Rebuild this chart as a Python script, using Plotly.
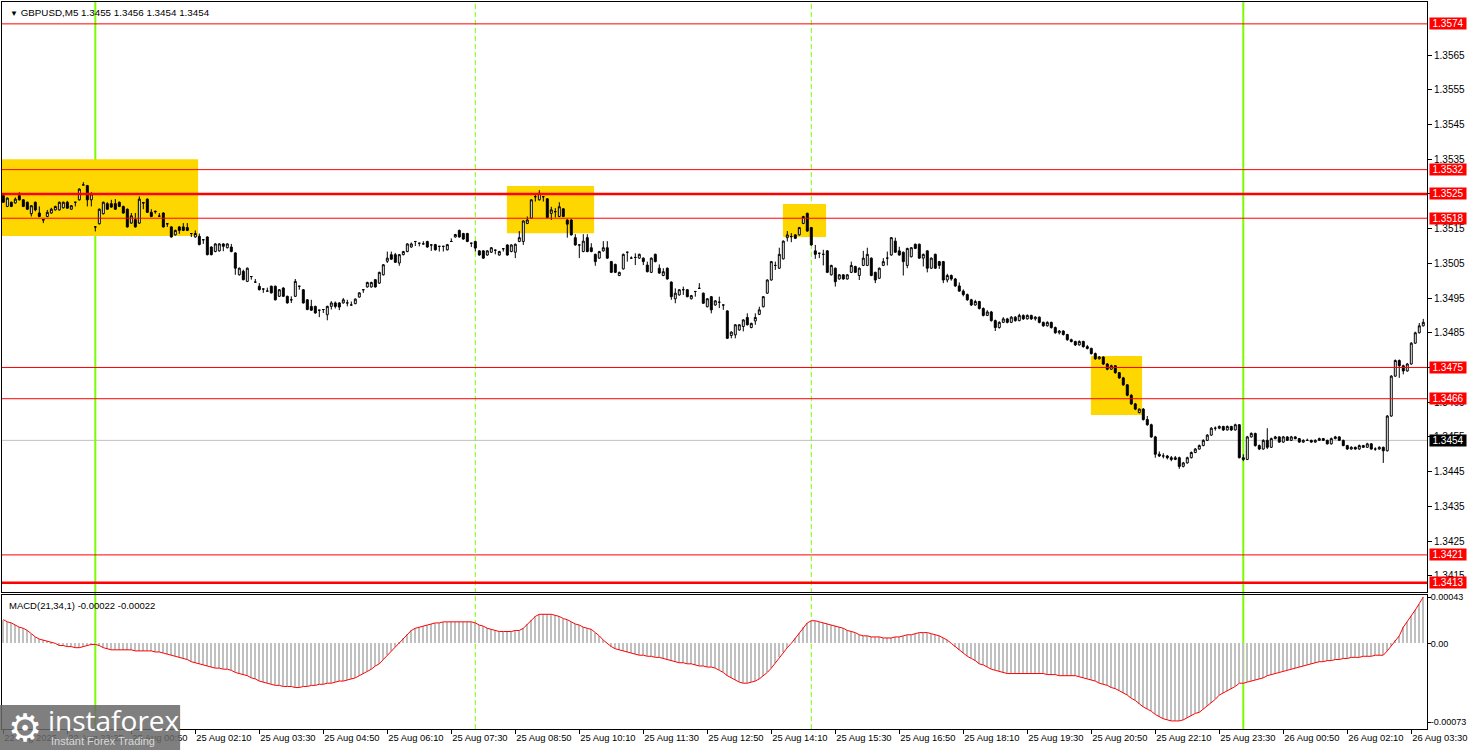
import plotly.graph_objects as go

# ---------------- data ----------------
bar_index = list(range(356))

open_prices = [
1.35245,1.35214,1.35226,1.35224,1.35245,1.35233,1.35226,1.35193,1.35226,1.35195,
1.35176,1.35185,1.35195,1.35204,1.35204,1.35210,1.35226,1.35206,1.35226,1.35233,
1.35276,1.35274,1.35233,1.35155,1.35164,1.35193,1.35222,1.35222,1.35222,1.35226,
1.35214,1.35206,1.35166,1.35176,1.35166,1.35225,1.35235,1.35197,1.35200,1.35186,
1.35195,1.35164,1.35155,1.35132,1.35155,1.35155,1.35153,1.35136,1.35126,1.35128,
1.35118,1.35126,1.35097,1.35084,1.35086,1.35106,1.35095,1.35097,1.35080,1.35017,
1.35027,1.34998,1.35012,1.34996,1.34984,1.34976,1.34970,1.34984,1.34984,1.34955,
1.34979,1.34955,1.34945,1.34955,1.34984,1.34974,1.34945,1.34926,1.34926,1.34915,
1.34917,1.34902,1.34926,1.34936,1.34936,1.34936,1.34936,1.34930,1.34934,1.34953,
1.34974,1.34982,1.34982,1.35003,1.34993,1.35017,1.35056,1.35075,1.35075,1.35051,
1.35075,1.35084,1.35097,1.35113,1.35108,1.35106,1.35113,1.35103,1.35104,1.35099,
1.35099,1.35089,1.35113,1.35126,1.35145,1.35136,1.35136,1.35108,1.35113,1.35086,
1.35086,1.35074,1.35082,1.35088,1.35074,1.35092,1.35103,1.35084,1.35082,1.35113,
1.35113,1.35165,1.35180,1.35242,1.35233,1.35242,1.35236,1.35194,1.35199,1.35185,
1.35207,1.35175,1.35175,1.35124,1.35103,1.35084,1.35124,1.35095,1.35076,1.35065,
1.35086,1.35095,1.35055,1.35047,1.35015,1.35034,1.35082,1.35065,1.35067,1.35065,
1.35065,1.35045,1.35024,1.35076,1.35036,1.35015,1.35036,1.34996,1.34948,1.34959,
1.34974,1.34974,1.34948,1.34969,1.34978,1.34964,1.34925,1.34954,1.34930,1.34938,
1.34930,1.34913,1.34842,1.34844,1.34858,1.34868,1.34894,1.34865,1.34884,1.34903,
1.34925,1.34964,1.35002,1.35044,1.35036,1.35063,1.35124,1.35127,1.35132,1.35132,
1.35165,1.35194,1.35153,1.35086,1.35079,1.35076,1.35086,1.35017,1.35036,1.35005,
1.35017,1.35005,1.35024,1.35041,1.35015,1.35044,1.35044,1.35065,1.35024,1.35007,
1.35044,1.35065,1.35074,1.35114,1.35086,1.35082,1.35044,1.35069,1.35105,1.35105,
1.35065,1.35086,1.35036,1.35076,1.35055,1.35055,1.35002,1.35015,1.35005,1.34985,
1.34970,1.34960,1.34945,1.34930,1.34940,1.34920,1.34900,1.34910,1.34885,1.34865,
1.34880,1.34890,1.34880,1.34895,1.34885,1.34900,1.34890,1.34900,1.34890,1.34895,
1.34880,1.34870,1.34880,1.34865,1.34850,1.34855,1.34845,1.34830,1.34825,1.34815,
1.34825,1.34810,1.34805,1.34790,1.34775,1.34780,1.34760,1.34745,1.34755,1.34735,
1.34720,1.34700,1.34670,1.34645,1.34620,1.34630,1.34600,1.34585,1.34550,1.34500,
1.34495,1.34495,1.34490,1.34485,1.34490,1.34465,1.34475,1.34490,1.34505,1.34515,
1.34525,1.34540,1.34555,1.34575,1.34575,1.34580,1.34570,1.34580,1.34570,1.34585,
1.34490,1.34485,1.34550,1.34560,1.34525,1.34515,1.34540,1.34520,1.34545,1.34550,
1.34535,1.34550,1.34540,1.34550,1.34545,1.34535,1.34540,1.34540,1.34535,1.34540,
1.34545,1.34540,1.34530,1.34545,1.34550,1.34540,1.34525,1.34515,1.34520,1.34515,
1.34525,1.34520,1.34530,1.34515,1.34515,1.34520,1.34510,1.34610,1.34725,1.34770,
1.34755,1.34740,1.34760,1.34820,1.34850,1.34870]

high_prices = [
1.35247,1.35240,1.35228,1.35240,1.35255,1.35235,1.35228,1.35218,1.35228,1.35214,
1.35177,1.35204,1.35210,1.35216,1.35228,1.35228,1.35230,1.35218,1.35227,1.35266,
1.35284,1.35276,1.35255,1.35156,1.35208,1.35228,1.35226,1.35233,1.35235,1.35228,
1.35216,1.35208,1.35195,1.35195,1.35243,1.35227,1.35237,1.35206,1.35202,1.35195,
1.35197,1.35165,1.35157,1.35147,1.35157,1.35166,1.35166,1.35137,1.35145,1.35136,
1.35119,1.35128,1.35099,1.35108,1.35108,1.35108,1.35108,1.35106,1.35082,1.35038,
1.35032,1.35038,1.35013,1.35005,1.34993,1.34977,1.34980,1.34986,1.34986,1.34976,
1.34981,1.34957,1.34955,1.35005,1.34985,1.34976,1.34947,1.34945,1.34928,1.34916,
1.34918,1.34928,1.34941,1.34940,1.34938,1.34950,1.34945,1.34940,1.34949,1.34967,
1.34975,1.34997,1.34997,1.35005,1.35026,1.35048,1.35084,1.35084,1.35080,1.35077,
1.35086,1.35108,1.35110,1.35114,1.35109,1.35114,1.35115,1.35104,1.35106,1.35100,
1.35100,1.35106,1.35122,1.35135,1.35147,1.35138,1.35138,1.35109,1.35115,1.35088,
1.35088,1.35088,1.35097,1.35089,1.35086,1.35093,1.35105,1.35105,1.35107,1.35143,
1.35174,1.35185,1.35235,1.35252,1.35261,1.35243,1.35238,1.35213,1.35209,1.35226,
1.35209,1.35177,1.35177,1.35134,1.35104,1.35134,1.35134,1.35108,1.35078,1.35086,
1.35114,1.35114,1.35057,1.35049,1.35026,1.35078,1.35083,1.35070,1.35079,1.35078,
1.35067,1.35055,1.35067,1.35078,1.35047,1.35036,1.35038,1.34998,1.34978,1.34976,
1.34983,1.34976,1.34959,1.34970,1.34993,1.34966,1.34950,1.34956,1.34944,1.34954,
1.34931,1.34915,1.34854,1.34875,1.34875,1.34889,1.34906,1.34879,1.34906,1.34925,
1.34956,1.35004,1.35057,1.35055,1.35095,1.35116,1.35143,1.35137,1.35134,1.35155,
1.35187,1.35196,1.35155,1.35103,1.35080,1.35089,1.35088,1.35046,1.35038,1.35019,
1.35019,1.35019,1.35055,1.35043,1.35038,1.35086,1.35095,1.35067,1.35026,1.35038,
1.35065,1.35084,1.35126,1.35124,1.35098,1.35084,1.35095,1.35097,1.35107,1.35107,
1.35078,1.35088,1.35067,1.35078,1.35057,1.35057,1.35020,1.35018,1.35008,1.34995,
1.34975,1.34963,1.34948,1.34945,1.34942,1.34923,1.34915,1.34913,1.34888,1.34883,
1.34895,1.34893,1.34898,1.34898,1.34905,1.34903,1.34903,1.34902,1.34898,1.34897,
1.34882,1.34883,1.34882,1.34868,1.34858,1.34857,1.34847,1.34833,1.34827,1.34828,
1.34827,1.34815,1.34807,1.34793,1.34783,1.34782,1.34763,1.34758,1.34757,1.34737,
1.34723,1.34702,1.34673,1.34648,1.34632,1.34633,1.34610,1.34588,1.34553,1.34508,
1.34503,1.34498,1.34495,1.34495,1.34493,1.34478,1.34493,1.34508,1.34518,1.34528,
1.34543,1.34558,1.34578,1.34580,1.34583,1.34582,1.34583,1.34582,1.34588,1.34587,
1.34500,1.34553,1.34563,1.34562,1.34528,1.34543,1.34575,1.34548,1.34553,1.34552,
1.34553,1.34552,1.34553,1.34552,1.34547,1.34543,1.34545,1.34542,1.34543,1.34548,
1.34547,1.34542,1.34548,1.34553,1.34552,1.34542,1.34527,1.34523,1.34522,1.34528,
1.34527,1.34533,1.34532,1.34520,1.34523,1.34522,1.34613,1.34728,1.34773,1.34773,
1.34758,1.34763,1.34823,1.34853,1.34878,1.34890]

low_prices = [
1.35224,1.35212,1.35212,1.35222,1.35231,1.35212,1.35204,1.35185,1.35200,1.35183,
1.35166,1.35183,1.35193,1.35202,1.35202,1.35208,1.35207,1.35204,1.35214,1.35231,
1.35275,1.35214,1.35214,1.35142,1.35162,1.35191,1.35204,1.35210,1.35204,1.35212,
1.35193,1.35153,1.35164,1.35153,1.35164,1.35206,1.35195,1.35183,1.35193,1.35185,
1.35153,1.35155,1.35124,1.35130,1.35135,1.35143,1.35143,1.35126,1.35124,1.35102,
1.35106,1.35073,1.35073,1.35082,1.35084,1.35085,1.35093,1.35082,1.35017,1.35015,
1.35001,1.34996,1.35003,1.34995,1.34972,1.34965,1.34969,1.34963,1.34943,1.34953,
1.34953,1.34934,1.34936,1.34953,1.34974,1.34934,1.34915,1.34913,1.34905,1.34895,
1.34907,1.34886,1.34917,1.34920,1.34915,1.34934,1.34926,1.34929,1.34932,1.34951,
1.34965,1.34980,1.34980,1.34980,1.34991,1.35015,1.35051,1.35060,1.35051,1.35043,
1.35073,1.35082,1.35095,1.35100,1.35099,1.35105,1.35095,1.35086,1.35087,1.35084,
1.35084,1.35087,1.35112,1.35124,1.35124,1.35118,1.35111,1.35097,1.35084,1.35072,
1.35063,1.35072,1.35080,1.35076,1.35072,1.35084,1.35072,1.35082,1.35065,1.35111,
1.35103,1.35163,1.35178,1.35228,1.35231,1.35228,1.35180,1.35175,1.35182,1.35183,
1.35183,1.35124,1.35130,1.35101,1.35065,1.35082,1.35082,1.35082,1.35043,1.35063,
1.35084,1.35063,1.35022,1.35022,1.35013,1.35032,1.35055,1.35064,1.35045,1.35063,
1.35045,1.35024,1.35022,1.35053,1.35020,1.35013,1.35003,1.34945,1.34935,1.34957,
1.34959,1.34952,1.34946,1.34954,1.34977,1.34933,1.34923,1.34906,1.34928,1.34921,
1.34916,1.34832,1.34834,1.34834,1.34856,1.34854,1.34871,1.34863,1.34873,1.34901,
1.34923,1.34962,1.35000,1.35031,1.35034,1.35061,1.35113,1.35111,1.35120,1.35130,
1.35163,1.35141,1.35101,1.35063,1.35065,1.35044,1.35022,1.35015,1.34983,1.35003,
1.35003,1.35003,1.35022,1.35022,1.35002,1.35042,1.35042,1.35013,1.34993,1.35005,
1.35042,1.35044,1.35072,1.35080,1.35072,1.35015,1.35036,1.35067,1.35091,1.35063,
1.35041,1.35024,1.35034,1.35034,1.35034,1.34993,1.34995,1.35000,1.34982,1.34968,
1.34955,1.34942,1.34927,1.34928,1.34917,1.34897,1.34898,1.34882,1.34855,1.34862,
1.34878,1.34877,1.34878,1.34882,1.34883,1.34887,1.34888,1.34887,1.34885,1.34877,
1.34867,1.34868,1.34862,1.34847,1.34845,1.34842,1.34827,1.34822,1.34812,1.34813,
1.34807,1.34802,1.34787,1.34772,1.34773,1.34757,1.34742,1.34743,1.34732,1.34717,
1.34697,1.34667,1.34642,1.34627,1.34618,1.34597,1.34582,1.34547,1.34490,1.34492,
1.34488,1.34485,1.34480,1.34483,1.34458,1.34462,1.34473,1.34488,1.34503,1.34513,
1.34523,1.34538,1.34553,1.34568,1.34572,1.34567,1.34568,1.34567,1.34568,1.34488,
1.34480,1.34483,1.34548,1.34522,1.34512,1.34513,1.34515,1.34518,1.34543,1.34533,
1.34533,1.34538,1.34538,1.34543,1.34533,1.34533,1.34538,1.34533,1.34533,1.34538,
1.34538,1.34528,1.34528,1.34543,1.34538,1.34523,1.34513,1.34513,1.34513,1.34513,
1.34518,1.34518,1.34513,1.34510,1.34513,1.34475,1.34508,1.34608,1.34723,1.34720,
1.34730,1.34738,1.34758,1.34818,1.34848,1.34868]

close_prices = [
1.35226,1.35238,1.35214,1.35235,1.35233,1.35214,1.35206,1.35216,1.35204,1.35185,
1.35175,1.35197,1.35206,1.35214,1.35226,1.35226,1.35209,1.35216,1.35226,1.35264,
1.35276,1.35233,1.35250,1.35155,1.35206,1.35226,1.35206,1.35212,1.35206,1.35214,
1.35195,1.35155,1.35187,1.35155,1.35235,1.35224,1.35197,1.35185,1.35199,1.35186,
1.35155,1.35164,1.35126,1.35145,1.35145,1.35145,1.35145,1.35136,1.35136,1.35104,
1.35118,1.35075,1.35075,1.35106,1.35106,1.35099,1.35106,1.35084,1.35036,1.35036,
1.35003,1.35036,1.35012,1.34996,1.34974,1.34976,1.34970,1.34965,1.34945,1.34974,
1.34955,1.34936,1.34945,1.34998,1.34984,1.34936,1.34917,1.34915,1.34907,1.34915,
1.34917,1.34926,1.34936,1.34926,1.34924,1.34945,1.34936,1.34930,1.34947,1.34965,
1.34974,1.34995,1.34995,1.34982,1.35024,1.35046,1.35065,1.35062,1.35053,1.35075,
1.35084,1.35106,1.35106,1.35113,1.35108,1.35106,1.35097,1.35103,1.35089,1.35099,
1.35099,1.35104,1.35113,1.35133,1.35126,1.35120,1.35113,1.35108,1.35094,1.35074,
1.35065,1.35086,1.35095,1.35088,1.35084,1.35092,1.35074,1.35103,1.35105,1.35124,
1.35172,1.35175,1.35233,1.35242,1.35252,1.35242,1.35182,1.35204,1.35199,1.35213,
1.35185,1.35163,1.35132,1.35103,1.35103,1.35114,1.35084,1.35084,1.35055,1.35084,
1.35095,1.35065,1.35024,1.35024,1.35024,1.35076,1.35082,1.35065,1.35067,1.35076,
1.35055,1.35026,1.35065,1.35055,1.35022,1.35026,1.35005,1.34954,1.34964,1.34974,
1.34974,1.34954,1.34957,1.34969,1.34978,1.34935,1.34948,1.34916,1.34942,1.34938,
1.34930,1.34834,1.34852,1.34873,1.34873,1.34887,1.34873,1.34877,1.34894,1.34916,
1.34954,1.35002,1.35055,1.35044,1.35076,1.35114,1.35132,1.35127,1.35122,1.35153,
1.35185,1.35143,1.35103,1.35076,1.35079,1.35076,1.35024,1.35044,1.34997,1.35017,
1.35005,1.35017,1.35044,1.35024,1.35036,1.35065,1.35076,1.35015,1.35002,1.35036,
1.35055,1.35065,1.35124,1.35082,1.35074,1.35055,1.35093,1.35095,1.35093,1.35065,
1.35076,1.35036,1.35065,1.35036,1.35044,1.35002,1.35015,1.35005,1.34985,1.34970,
1.34960,1.34945,1.34930,1.34940,1.34920,1.34900,1.34910,1.34885,1.34865,1.34880,
1.34890,1.34880,1.34895,1.34885,1.34900,1.34890,1.34900,1.34890,1.34895,1.34880,
1.34870,1.34880,1.34865,1.34850,1.34855,1.34845,1.34830,1.34825,1.34815,1.34825,
1.34810,1.34805,1.34790,1.34775,1.34780,1.34760,1.34745,1.34755,1.34735,1.34720,
1.34700,1.34670,1.34645,1.34630,1.34630,1.34600,1.34585,1.34550,1.34500,1.34495,
1.34495,1.34490,1.34485,1.34490,1.34465,1.34475,1.34490,1.34505,1.34515,1.34525,
1.34540,1.34555,1.34575,1.34575,1.34580,1.34570,1.34580,1.34570,1.34585,1.34490,
1.34485,1.34550,1.34560,1.34525,1.34515,1.34540,1.34520,1.34545,1.34550,1.34535,
1.34550,1.34540,1.34550,1.34545,1.34535,1.34540,1.34540,1.34535,1.34540,1.34545,
1.34540,1.34530,1.34545,1.34550,1.34540,1.34525,1.34515,1.34520,1.34515,1.34525,
1.34520,1.34530,1.34515,1.34515,1.34520,1.34510,1.34610,1.34725,1.34770,1.34755,
1.34740,1.34760,1.34820,1.34850,1.34870,1.34880]

macd_values = [
0.00022,0.00020,0.00019,0.00017,0.00015,0.00014,0.00012,0.00009,0.00006,0.00004,
0.00003,0.00002,0.00001,0.0,-0.00002,-0.00002,-0.00003,-0.00003,-0.00004,-0.00004,
-0.00003,-0.00002,-0.00001,-0.00001,-0.00002,-0.00004,-0.00005,-0.00006,-0.00006,-0.00006,
-0.00006,-0.00006,-0.00006,-0.00007,-0.00007,-0.00007,-0.00007,-0.00007,-0.00008,-0.00008,
-0.00009,-0.00010,-0.00011,-0.00012,-0.00013,-0.00014,-0.00015,-0.00017,-0.00018,-0.00019,
-0.00020,-0.00021,-0.00022,-0.00023,-0.00023,-0.00024,-0.00024,-0.00025,-0.00027,-0.00028,
-0.00029,-0.00030,-0.00032,-0.00033,-0.00035,-0.00036,-0.00037,-0.00038,-0.00039,-0.00039,
-0.00040,-0.00040,-0.00040,-0.00041,-0.00041,-0.00040,-0.00040,-0.00039,-0.00039,-0.00038,
-0.00038,-0.00037,-0.00037,-0.00036,-0.00035,-0.00035,-0.00034,-0.00033,-0.00032,-0.00030,
-0.00028,-0.00026,-0.00024,-0.00021,-0.00019,-0.00015,-0.00011,-0.00007,-0.00003,0.00001,
0.00005,0.00009,0.00012,0.00014,0.00015,0.00016,0.00017,0.00018,0.00019,0.00019,
0.00020,0.00020,0.00020,0.00020,0.00020,0.00020,0.00020,0.00020,0.00019,0.00017,
0.00016,0.00014,0.00013,0.00012,0.00011,0.00011,0.00011,0.00011,0.00012,0.00012,
0.00014,0.00018,0.00022,0.00025,0.00027,0.00027,0.00027,0.00027,0.00026,0.00025,
0.00023,0.00022,0.00020,0.00018,0.00017,0.00015,0.00014,0.00013,0.00010,0.00007,
0.00003,0.0,-0.00003,-0.00005,-0.00006,-0.00007,-0.00008,-0.00009,-0.00010,-0.00011,
-0.00011,-0.00012,-0.00012,-0.00013,-0.00013,-0.00014,-0.00015,-0.00016,-0.00017,-0.00018,
-0.00018,-0.00019,-0.00019,-0.00020,-0.00021,-0.00021,-0.00022,-0.00022,-0.00023,-0.00025,
-0.00027,-0.00030,-0.00032,-0.00034,-0.00036,-0.00037,-0.00037,-0.00036,-0.00035,-0.00033,
-0.00030,-0.00027,-0.00023,-0.00018,-0.00013,-0.00008,-0.00004,0.0,0.00005,0.00010,
0.00015,0.00019,0.00021,0.00021,0.00020,0.00019,0.00018,0.00017,0.00016,0.00015,
0.00014,0.00012,0.00011,0.00010,0.00008,0.00007,0.00007,0.00006,0.00006,0.00006,
0.00005,0.00005,0.00005,0.00006,0.00006,0.00007,0.00008,0.00008,0.00009,0.00010,
0.00010,0.00010,0.00009,0.00008,0.00007,0.00005,0.00003,0.0,-0.00003,-0.00006,
-0.00009,-0.00012,-0.00014,-0.00016,-0.00019,-0.00020,-0.00022,-0.00024,-0.00025,-0.00026,
-0.00027,-0.00028,-0.00028,-0.00028,-0.00028,-0.00028,-0.00028,-0.00028,-0.00028,-0.00028,
-0.00028,-0.00029,-0.00029,-0.00029,-0.00030,-0.00030,-0.00030,-0.00030,-0.00030,-0.00031,
-0.00032,-0.00033,-0.00034,-0.00035,-0.00037,-0.00038,-0.00039,-0.00041,-0.00042,-0.00044,
-0.00046,-0.00048,-0.00051,-0.00053,-0.00056,-0.00059,-0.00061,-0.00063,-0.00066,-0.00068,
-0.00070,-0.00071,-0.00072,-0.00072,-0.00072,-0.00071,-0.00069,-0.00067,-0.00065,-0.00064,
-0.00061,-0.00058,-0.00055,-0.00052,-0.00048,-0.00046,-0.00044,-0.00042,-0.00040,-0.00037,
-0.00037,-0.00036,-0.00035,-0.00034,-0.00033,-0.00032,-0.00030,-0.00029,-0.00028,-0.00027,
-0.00026,-0.00025,-0.00024,-0.00023,-0.00022,-0.00021,-0.00020,-0.00019,-0.00018,-0.00017,
-0.00017,-0.00016,-0.00016,-0.00015,-0.00015,-0.00014,-0.00014,-0.00013,-0.00013,-0.00013,
-0.00012,-0.00012,-0.00012,-0.00011,-0.00011,-0.00011,-0.00007,-0.00002,0.00003,0.00007,
0.00015,0.00020,0.00025,0.00031,0.00037,0.00043]

for _lst in (open_prices, high_prices, low_prices, close_prices, macd_values):
    assert len(_lst) == len(bar_index), len(_lst)

time_tick_index = [0, 16, 32, 48, 64, 80, 96, 112, 128, 144, 160, 176, 192,
                   208, 224, 240, 256, 272, 288, 304, 320, 336, 352]
time_tick_text = ["22 Aug 2025", "22 Aug 23:25", "25 Aug 00:50", "25 Aug 02:10",
                  "25 Aug 03:30", "25 Aug 04:50", "25 Aug 06:10", "25 Aug 07:30",
                  "25 Aug 08:50", "25 Aug 10:10", "25 Aug 11:30", "25 Aug 12:50",
                  "25 Aug 14:10", "25 Aug 15:30", "25 Aug 16:50", "25 Aug 18:10",
                  "25 Aug 19:30", "25 Aug 20:50", "25 Aug 22:10", "25 Aug 23:30",
                  "26 Aug 00:50", "26 Aug 02:10", "26 Aug 03:30"]

price_ticks = [1.3415, 1.3425, 1.3435, 1.3445, 1.3455, 1.3465, 1.3475, 1.3485,
               1.3495, 1.3505, 1.3515, 1.3525, 1.3535, 1.3545, 1.3555, 1.3565]
price_tick_text = ["1.3415", "1.3425", "1.3435", "1.3445", "1.3455", "1.3465",
                   "1.3475", "1.3485", "1.3495", "1.3505", "1.3515", "1.3525",
                   "1.3535", "1.3545", "1.3555", "1.3565"]
macd_ticks = [0.00043, 0.0, -0.00073]
macd_tick_text = ["0.00043", "0.00", "-0.00073"]

level_prices = [1.3574, 1.3532, 1.3525, 1.3518, 1.3475, 1.3466, 1.3421, 1.3413]
level_text = ["1.3574", "1.3532", "1.3525", "1.3518", "1.3475", "1.3466", "1.3421", "1.3413"]
strong_levels = [1.3525, 1.3413]
bid_price = 1.3454

# zones: (first bar, last bar, low price, high price)
zone_bars = [(-0.33, 48.7), (125.9, 147.7), (194.9, 205.7), (271.9, 284.7)]
zone_prices = [(1.35129, 1.35350), (1.35137, 1.35273), (1.35126, 1.35221), (1.34613, 1.34783)]

day_start_bars = [23, 310]
session_bars = [118, 202]

header_text = "GBPUSD,M5 1.3455 1.3456 1.3454 1.3454"
macd_label = "MACD(21,34,1) -0.00022 -0.00022"

# ---------------- figure ----------------
FONT = "Liberation Sans, Arial, sans-serif"

fig = go.Figure()
fig.add_trace(go.Candlestick(
    x=bar_index, open=open_prices, high=high_prices, low=low_prices, close=close_prices,
    increasing=dict(line=dict(color="black", width=1), fillcolor="white"),
    decreasing=dict(line=dict(color="black", width=1), fillcolor="black"),
    whiskerwidth=0, xaxis="x", yaxis="y", hoverinfo="skip", showlegend=False))
fig.add_trace(go.Bar(
    x=bar_index, y=macd_values, marker=dict(color="#c0c0c0", line=dict(width=0)),
    width=0.5, xaxis="x2", yaxis="y2", hoverinfo="skip", showlegend=False))
fig.add_trace(go.Scatter(
    x=bar_index, y=macd_values, mode="lines", line=dict(color="red", width=1),
    xaxis="x2", yaxis="y2", hoverinfo="skip", showlegend=False))

shapes = []
for (b0, b1), (p0, p1) in zip(zone_bars, zone_prices):
    shapes.append(dict(type="rect", xref="x", yref="y", x0=b0, x1=b1, y0=p0, y1=p1,
                       fillcolor="#FFD700", line=dict(width=0), layer="below"))
shapes.append(dict(type="line", xref="paper", yref="y", x0=0, x1=1, y0=bid_price, y1=bid_price,
                   line=dict(color="#c0c0c0", width=1), layer="below"))
for b in day_start_bars:
    shapes.append(dict(type="line", xref="x", yref="paper", x0=b, x1=b, y0=0, y1=1,
                       line=dict(color="#7CFC00", width=2), layer="below"))
for b in session_bars:
    shapes.append(dict(type="line", xref="x", yref="paper", x0=b, x1=b, y0=0, y1=1,
                       line=dict(color="#7CFC00", width=1, dash="5px,3px"), layer="below"))
for p in level_prices:
    w = 2.5 if p in strong_levels else 1
    shapes.append(dict(type="line", xref="paper", yref="y", x0=0, x1=1, y0=p, y1=p,
                       line=dict(color="#ff0000", width=w), layer="above"))
# logo box
shapes.append(dict(type="rect", xref="paper", yref="paper", x0=-0.0015, x1=0.125,
                   y0=-0.03, y1=0.033, fillcolor="rgba(105,105,105,0.85)",
                   line=dict(width=0), layer="above"))

annotations = []
for p, t in zip(level_prices, level_text):
    annotations.append(dict(xref="paper", yref="y", x=1, y=p, xanchor="left", yanchor="middle",
                            xshift=2, text=t, showarrow=False, bgcolor="#ff0000",
                            font=dict(color="white", size=10, family=FONT),
                            width=36, height=11, borderpad=0, align="center"))
annotations.append(dict(xref="paper", yref="y", x=1, y=bid_price, xanchor="left", yanchor="middle",
                        xshift=2, text="1.3454", showarrow=False, bgcolor="black",
                        font=dict(color="white", size=10, family=FONT),
                        width=36, height=11, borderpad=0, align="center"))
annotations.append(dict(xref="paper", yref="paper", x=0, y=1, xanchor="left", yanchor="top",
                        xshift=6, yshift=-3, showarrow=False,
                        text="<span style='font-size:8px'>▼</span> " + header_text,
                        font=dict(color="black", size=9.8, family=FONT)))
annotations.append(dict(xref="paper", yref="paper", x=0, y=0.1843, xanchor="left", yanchor="top",
                        xshift=5, yshift=-3, showarrow=False, text=macd_label,
                        font=dict(color="black", size=9.5, family=FONT)))
# logo texts
annotations.append(dict(xref="paper", yref="paper", x=0.003, y=0.002, xanchor="left",
                        yanchor="middle", showarrow=False, text="⚙",
                        font=dict(color="white", size=38, family="DejaVu Sans")))
annotations.append(dict(xref="paper", yref="paper", x=0.031, y=0.012, xanchor="left",
                        yanchor="middle", showarrow=False, text="instaforex",
                        font=dict(color="white", size=28, family="Open Sans, sans-serif")))
annotations.append(dict(xref="paper", yref="paper", x=0.033, y=-0.017, xanchor="left",
                        yanchor="middle", showarrow=False, text="Instant Forex Trading",
                        font=dict(color="#d8d8d8", size=11, family=FONT)))

x_range = [-0.33, 355.93]
axis_common = dict(showline=True, linecolor="black", linewidth=1, mirror=True,
                   showgrid=False, zeroline=False, automargin=False)

fig.update_layout(
    width=1468, height=750,
    margin=dict(l=2, r=41, t=2, b=21, autoexpand=False),
    paper_bgcolor="white", plot_bgcolor="white",
    showlegend=False, bargap=0,
    font=dict(family=FONT, size=10, color="black"),
    xaxis=dict(domain=[0, 1], anchor="y", range=x_range, showticklabels=False,
               rangeslider=dict(visible=False), ticks="", **axis_common),
    yaxis=dict(domain=[0.1884, 1], anchor="x", side="right", range=[1.34103, 1.35803],
               tickmode="array", tickvals=price_ticks, ticktext=price_tick_text,
               ticks="outside", ticklen=4, tickcolor="black",
               tickfont=dict(size=10, family=FONT, color="black"), **axis_common),
    xaxis2=dict(domain=[0, 1], anchor="y2", range=x_range, tickmode="array",
                tickvals=time_tick_index, ticktext=time_tick_text, tickangle=0,
                ticks="outside", ticklen=4, tickcolor="black",
                ticklabelposition="outside right", ticklabeloverflow="allow",
                tickfont=dict(size=9.4, family=FONT, color="black"), **axis_common),
    yaxis2=dict(domain=[0, 0.1843], anchor="x2", side="right", range=[-0.000795, 0.000449],
                tickmode="array", tickvals=macd_ticks, ticktext=macd_tick_text,
                ticks="outside", ticklen=3, tickcolor="black", ticklabelstandoff=-2,
                tickfont=dict(size=9, family=FONT, color="black"), **axis_common),
    shapes=shapes, annotations=annotations,
)

fig.write_html(
    "out.html",
    config={"displayModeBar": False},
    post_script="document.body.style.margin='0px';document.body.style.padding='0px';"
                "document.body.style.overflow='hidden';",
)
